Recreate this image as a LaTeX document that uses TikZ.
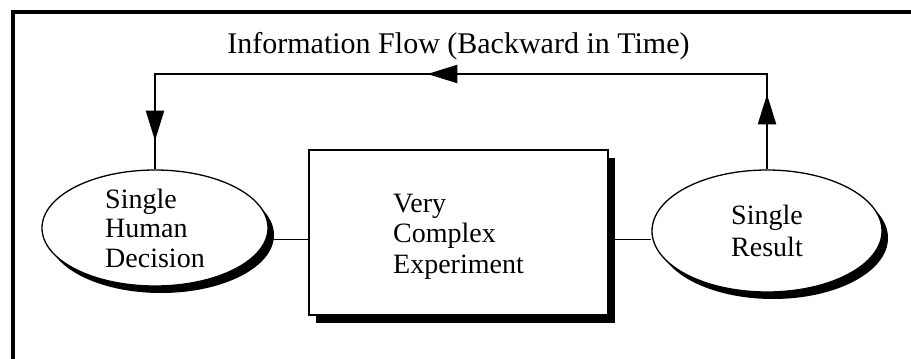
\documentclass[tikz,border=0pt]{standalone}
\usepackage{fontspec}
\setmainfont{Liberation Serif}
\usetikzlibrary{shapes.geometric,shadows,arrows.meta,decorations.markings}
\begin{document}
\begin{tikzpicture}[x=1pt,y=-1pt,
  txt/.style={font=\fontsize{28}{29.5}\selectfont, align=left},
  ell/.style={ellipse, draw, line width=1.3pt, fill=white, inner sep=0pt, txt,
    drop shadow={shadow xshift=6pt, shadow yshift=-7pt, fill=black, opacity=1}},
  boxst/.style={rectangle, draw, line width=1.3pt, fill=white, inner sep=0pt,
    drop shadow={shadow xshift=7pt, shadow yshift=-8pt, fill=black, opacity=1}},
  link/.style={line width=1.2pt},
  flow/.style={line width=2.2pt, postaction={decorate},
    decoration={markings,
      mark=at position 75pt with {\arrow{Triangle[length=30pt,width=18pt]}},
      mark=at position 435pt with {\arrow{Triangle[length=30pt,width=18pt]}},
      mark=at position 774pt with {\arrow{Triangle[length=30pt,width=18pt]}}}},
  frame/.style={line width=3.5pt}
]
\useasboundingbox (0,0) rectangle (911,359);
\draw[frame] (13,359) -- (13,12) -- (911,12);
\node[font=\fontsize{30}{32}\selectfont, anchor=base] (title) at (458.5,53.5) {Information Flow (Backward in Time)};
\node[boxst, minimum width=299pt, minimum height=165pt] (exp) at (458.5,232.5) {};
\node[txt, font=\fontsize{28}{30.5}\selectfont] (exptext) at ([yshift=-4pt]exp.center) {Very\\Complex\\Experiment};
\node[ell, minimum width=226pt, minimum height=116pt] (dec) at (155,228) {Single\\Human\\Decision};
\node[ell, minimum width=230pt, minimum height=122pt] (res) at (767,231) {Single\\[3pt]Result};
\coordinate (top) at (0,74);
\draw[link] ([yshift=-7pt]exp.west) -- ([yshift=-7pt]exp.west -| dec.east);
\draw[link] ([yshift=-7pt]exp.east) -- ([yshift=-7pt]exp.east -| res.west);
\draw[flow] (res.north) -- (res.north |- top) -| (dec.north);
\end{tikzpicture}
\end{document}
